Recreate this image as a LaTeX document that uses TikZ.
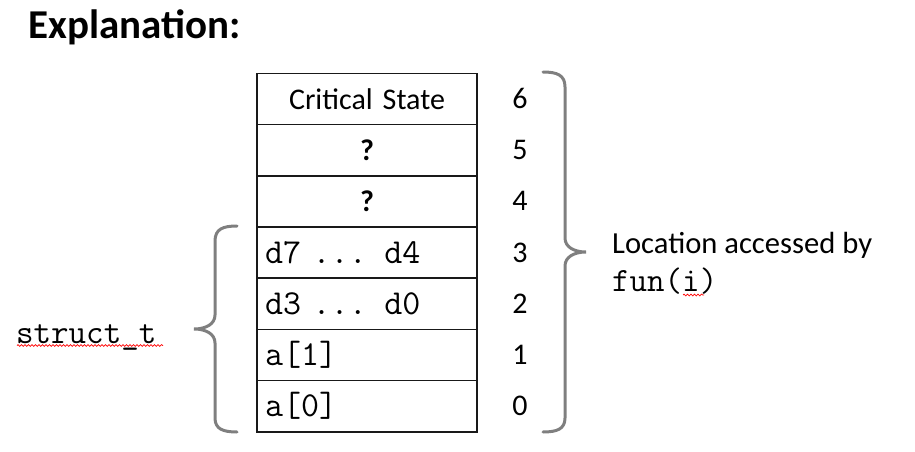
\documentclass[tikz,border=0pt]{standalone}
\usepackage{fontspec}
\setmainfont{Carlito}
\usetikzlibrary{decorations.pathmorphing}
\definecolor{bracegray}{HTML}{7F7F7F}
\tikzset{
  cellbox/.style={draw=black!90, line width=1.6pt, minimum width=220pt, minimum height=51.2pt, inner xsep=8pt, inner ysep=0pt, text width=204pt, font=\fontsize{30}{30}\selectfont},
  cellc/.style={cellbox, align=center},
  celll/.style={cellbox, align=left, font=\fontsize{35}{35}\selectfont\ttfamily},
  idx/.style={font=\fontsize{30}{30}\selectfont, inner sep=0pt},
  bracepath/.style={draw=bracegray, line width=3pt, line cap=round},
  squiggle/.style={draw=red, line width=0.7pt, decorate, decoration={snake, segment length=3.5pt, amplitude=0.9pt}},
  lbl/.style={inner sep=0pt, anchor=base west}
}
\begin{document}
\begin{tikzpicture}[x=1pt,y=-1pt]
\useasboundingbox (0,0) rectangle (915,452);
\node[lbl, font=\fontsize{41}{41}\selectfont\bfseries] (title) at (28,38) {Explanation:};
% stack
\node[cellc] (r6) at (367,98.9) {Critical State};
\node[cellc] (r5) at (367,150.1) {\textbf{?}};
\node[cellc] (r4) at (367,201.3) {\textbf{?}};
\node[celll] (r3) at (367,252.5) {d7 ... d4};
\node[celll] (r2) at (367,303.7) {d3 ... d0};
\node[celll] (r1) at (367,354.9) {a[1]};
\node[celll] (r0) at (367,406.1) {a[0]};
% indices
\node[idx] (n6) at (520,98.9) {6};
\node[idx] (n5) at (520,150.1) {5};
\node[idx] (n4) at (520,201.3) {4};
\node[idx] (n3) at (520,252.5) {3};
\node[idx] (n2) at (520,303.7) {2};
\node[idx] (n1) at (520,354.9) {1};
\node[idx] (n0) at (520,406.1) {0};
% braces
\draw[bracepath] (237,226) .. controls (223,226) and (215,229) .. (215,241) -- (215,315) .. controls (215,324) and (206,329) .. (194,329) .. controls (206,329) and (215,334) .. (215,343) -- (215,418) .. controls (215,429) and (223,432) .. (237,432);
\draw[bracepath] (543,72) .. controls (557,72) and (565,75) .. (565,87) -- (565,238) .. controls (565,247) and (574,252) .. (586,252) .. controls (574,252) and (565,257) .. (565,266) -- (565,418) .. controls (565,429) and (557,432) .. (543,432);
% labels
\node[lbl, font=\fontsize{34}{34}\selectfont\ttfamily] (st) at (16,343) {struct\_t};
\draw[squiggle] (17,345.5) -- (163,345.5);
\node[lbl, font=\fontsize{30.6}{30.6}\selectfont] (loc) at (612,253) {Location accessed by};
\node[lbl, font=\fontsize{34}{34}\selectfont\ttfamily] (fun) at (612,291) {fun(i)};
\draw[squiggle] (683,295) -- (704,295);
\end{tikzpicture}
\end{document}
